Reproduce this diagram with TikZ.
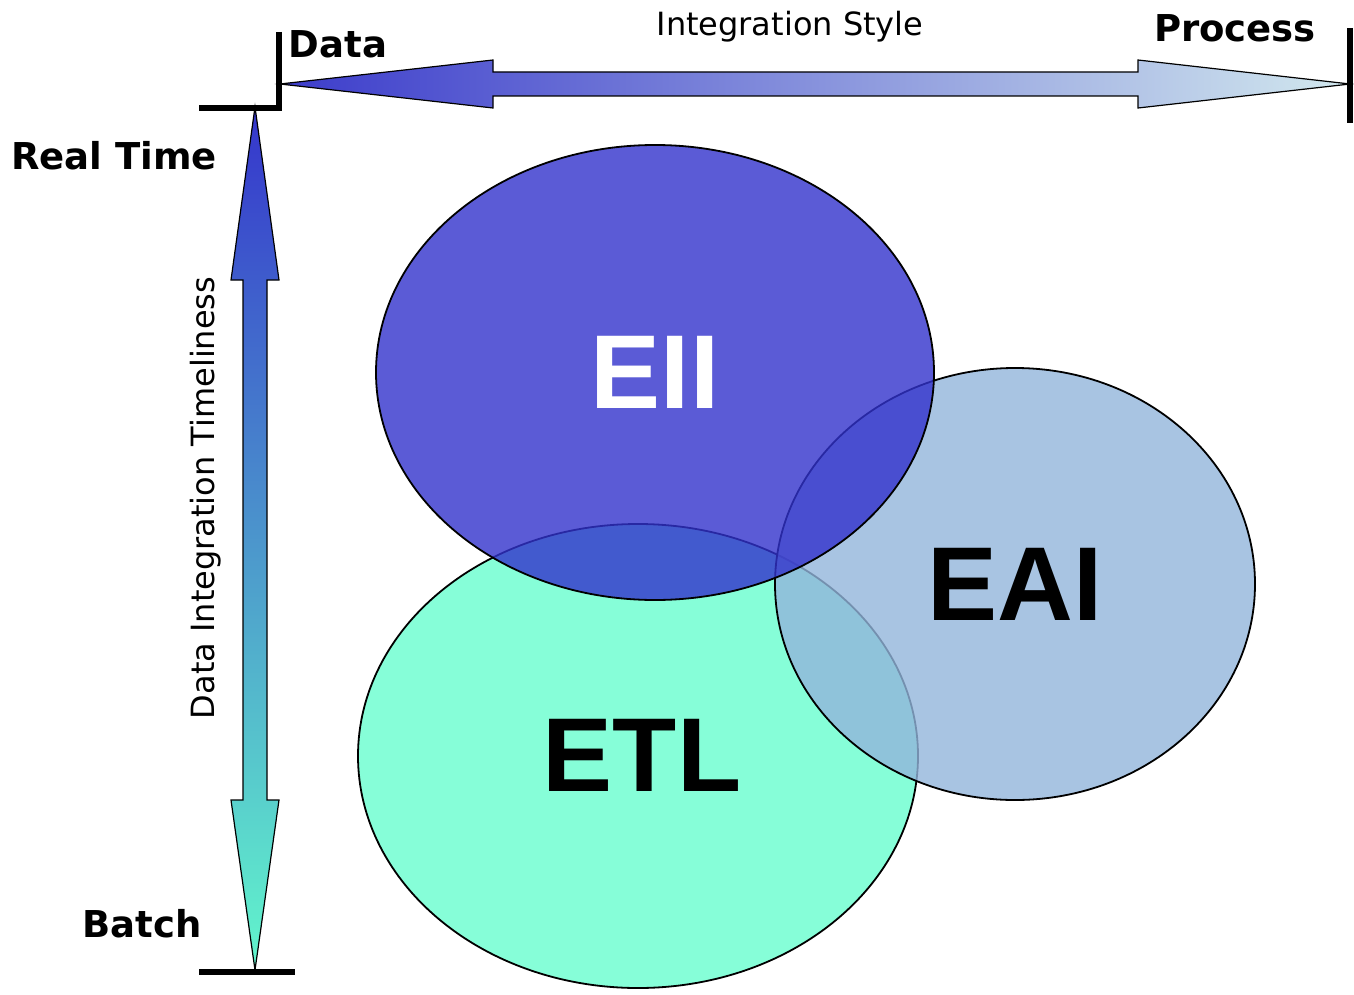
\documentclass[tikz,border=0pt]{standalone}
\usepackage{fontspec}
\setmainfont{DejaVu Sans}
\newfontfamily\circlefont{Liberation Sans}
\usetikzlibrary{shapes.geometric}
\definecolor{eiicol}{HTML}{3232CC}
\definecolor{eaicol}{HTML}{92B5DB}
\definecolor{etlcol}{HTML}{86FED8}
\definecolor{hleft}{HTML}{3C3CCB}
\definecolor{hright}{HTML}{D2E8EE}
\definecolor{vtop}{HTML}{3535CC}
\definecolor{vbottom}{HTML}{62F6CC}
\begin{document}
\begin{tikzpicture}[x=0.5pt,y=-0.5pt,
  tickline/.style={line width=2.7pt,line cap=butt},
  arrowbody/.style={draw=black,line width=0.6pt,line join=miter},
  setblob/.style={ellipse,draw=black,line width=0.9pt,inner sep=0pt,
    text opacity=1,font=\circlefont\fontsize{52.5}{60}\selectfont\bfseries},
  axislabel/.style={inner sep=0pt,font=\fontsize{18.5}{22}\selectfont\bfseries},
  axistitle/.style={inner sep=0pt,font=\fontsize{16}{19}\selectfont}]
\useasboundingbox (0,0) rectangle (1354,995);

% sets, bottom to top
\node[setblob,fill=etlcol,minimum width=280pt,minimum height=232pt] (etl) at (638,756) {};
\node[setblob,fill=eaicol,fill opacity=0.8,minimum width=240pt,minimum height=216pt] (eai) at (1015,584) {EAI};
\node[setblob,fill=eiicol,fill opacity=0.8,text=white,minimum width=279pt,minimum height=227.5pt] (eii) at (655,372.5) {EII};
\node[setblob,draw=none,anchor=center] (etltext) at (642,755) {ETL};

% integration style axis
\coordinate (dataend) at (280,84);
\coordinate (procend) at (1350,84);
\shadedraw[arrowbody,left color=hleft,right color=hright]
  (dataend) -- (493,60) -- (493,72) -- (1138,72) -- (1138,60) -- (procend)
  -- (1138,108) -- (1138,96) -- (493,96) -- (493,108) -- cycle;

% timeliness axis
\coordinate (rtend) at (255,107);
\coordinate (batchend) at (255,970);
\shadedraw[arrowbody,top color=vtop,bottom color=vbottom]
  (rtend) -- (279,280) -- (267,280) -- (267,800) -- (279,800) -- (batchend)
  -- (231,800) -- (243,800) -- (243,280) -- (231,280) -- cycle;

% end marks
\coordinate (corner) at (279,108);
\draw[tickline] (279,32) -- (corner) -- (199,108);
\draw[tickline] (199,972) -- (295,972);
\draw[tickline] (1350,28) -- (1350,123);

% labels
\node[axislabel] (data) at (338,44) {Data};
\node[axislabel] (process) at (1235,28) {Process};
\node[axistitle,anchor=base] (style) at (790,36) {Integration Style};
\node[axislabel] (realtime) at (114,156) {Real Time};
\node[axislabel] (batch) at (142,924) {Batch};
\node[axistitle,rotate=90] (timeliness) at (206,498) {Data Integration Timeliness};
\end{tikzpicture}
\end{document}
